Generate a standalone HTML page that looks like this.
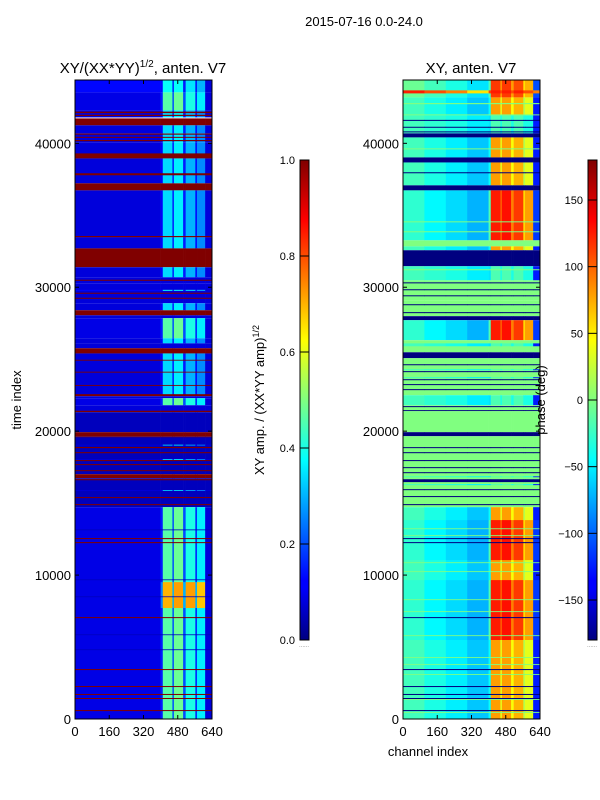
<!DOCTYPE html>
<html><head><meta charset="utf-8"><style>
html,body{margin:0;padding:0;background:#fff;}
svg{display:block;font-family:"Liberation Sans","DejaVu Sans",sans-serif;}
</style></head><body>
<svg id="fig" width="600" height="800" viewBox="0 0 600 800" xmlns="http://www.w3.org/2000/svg">
<defs>
<linearGradient id="jetg" x1="0" y1="1" x2="0" y2="0">
<stop offset="0" stop-color="#000080"/><stop offset="0.11" stop-color="#0000ff"/><stop offset="0.125" stop-color="#0000ff"/>
<stop offset="0.375" stop-color="#00ffff"/><stop offset="0.5" stop-color="#80ff80"/><stop offset="0.625" stop-color="#ffff00"/>
<stop offset="0.875" stop-color="#ff0000"/><stop offset="1" stop-color="#800000"/></linearGradient>
</defs>
<text x="364" y="26" font-size="13" text-anchor="middle">2015-07-16 0.0-24.0</text>
<g id="left"></g>
<g id="right"></g>
<g id="axes"></g>
</svg>
<script>
// ---- data ----
const tMax = 44400;
const yTicks = [0, 10000, 20000, 30000, 40000];
const xTicks = [0, 160, 320, 480, 640];
const ampTicks = [0.0, 0.2, 0.4, 0.6, 0.8, 1.0];
const phaseTicks = [-150, -100, -50, 0, 50, 100, 150];
const leftEdges = [0, 400, 410, 455, 462, 505, 517, 562, 570, 608, 640];
const rightEdges = [0, 100, 200, 300, 400, 410, 455, 462, 505, 517, 562, 570, 608, 640];
const leftProfiles = {
  b: [.09,.09,.09,.09,.09,.09,.09,.09,.09,.09],
  k: [.06,.06,.06,.06,.06,.06,.06,.06,.06,.06],
  a: [.09,.12,.34,.15,.36,.15,.3,.14,.26,.09],
  A: [.1,.15,.46,.2,.48,.2,.4,.17,.36,.09],
  H: [.1,.25,.7,.3,.72,.3,.72,.3,.68,.1],
  s: [.13,.13,.38,.15,.38,.15,.35,.15,.3,.09],
  r: [1,1,1,1,1,1,1,1,1,1]
};
const rightProfiles = {
  c: [.44,.4,.36,.32,.38,.72,.6,.72,.62,.7,.55,.6,.15],
  C: [.42,.37,.34,.3,.45,.85,.78,.86,.75,.82,.66,.72,.18],
  T: [.48,.44,.4,.35,.45,.82,.72,.82,.72,.8,.65,.7,.2],
  m: [.44,.42,.4,.36,.35,.45,.4,.45,.4,.45,.4,.4,.15],
  R: [.85,.8,.75,.65,.8,.85,.8,.85,.8,.85,.8,.8,.75],
  g: [.5,.5,.5,.5,.5,.5,.5,.5,.5,.5,.5,.5,.5],
  n: [0,0,0,0,0,0,0,0,0,0,0,0,0]
};
const leftRows = [
 [43540,44400,'s'],[42290,43540,'A'],[41800,42290,'a'],[42100,42200,'r'],[41900,41980,'r'],
 [41250,41730,'r'],[40690,41250,'a'],[40070,40690,'a'],[40600,40680,'r'],[40380,40450,'r'],[40150,40230,'r'],
 [39000,40070,'a'],[38950,39300,'r'],[37220,38950,'a'],[37780,37920,'r'],[36730,37220,'r'],
 [33470,36730,'a'],[33470,33560,'r'],[32700,33470,'a'],[31390,32700,'r'],[30690,31390,'a'],
 [30280,30690,'b'],[30450,30520,'r'],[28890,30280,'b'],[29750,29820,'s'],[29550,29620,'r'],[29200,29270,'r'],
 [28400,28890,'a'],[28050,28400,'r'],[27850,28050,'b'],[26450,27850,'A'],[26100,26450,'a'],[25760,26100,'b'],
 [25400,25760,'r'],[22500,25400,'a'],[24900,24960,'r'],[24070,24130,'r'],[23150,23210,'r'],
 [22430,22570,'r'],[22290,22430,'b'],[21800,22290,'A'],[21390,21800,'b'],[21320,21420,'r'],[19930,21320,'k'],
 [19650,19930,'r'],[17010,19650,'k'],[19580,19640,'r'],[18820,18900,'r'],[18470,18540,'r'],[17920,17990,'r'],
 [17640,17710,'r'],[17220,17290,'r'],[19000,19060,'a'],[18000,18060,'a'],
 [16730,17010,'r'],[14720,16730,'k'],[16590,16660,'r'],[15350,15420,'r'],[14860,14930,'r'],[15850,15900,'a'],
 [0,14720,'A'],[7710,9510,'H'],[12500,12570,'r'],[12220,12290,'r'],[7010,7080,'r'],[3400,3470,'r'],
 [2220,2290,'r'],[1670,1740,'r'],[1390,1460,'r'],[550,620,'r'],
 [13120,13170,'k'],[9650,9700,'k'],[8470,8520,'k'],[5830,5880,'k'],[4790,4840,'k']
];
const rightRows = [
 [43190,44400,'T'],[43470,43680,'R'],[41940,43190,'c'],[42720,42800,'g'],[41940,42010,'g'],
 [40690,41940,'m'],[41560,41630,'n'],[41080,41150,'n'],[40760,40830,'n'],[40410,40690,'n'],
 [39020,40410,'c'],[39580,39650,'g'],[38670,39020,'n'],[37080,38670,'c'],[37920,37990,'n'],[36730,37080,'n'],
 [33260,36730,'C'],[34510,34580,'g'],[33820,33890,'g'],[32840,33260,'g'],[32570,32840,'c'],[31460,32570,'n'],
 [30480,31460,'m'],[31180,31250,'g'],[29100,30480,'g'],[30270,30340,'n'],[29790,29860,'n'],[29370,29440,'n'],
 [27990,29100,'g'],[28750,28820,'n'],[28200,28270,'n'],[27710,27990,'n'],[26320,27710,'C'],
 [25480,26320,'g'],[25900,26100,'m'],[25070,25480,'n'],[22500,25070,'g'],[24580,24650,'n'],[24100,24170,'n'],
 [23540,23610,'n'],[23200,23270,'n'],[22850,22920,'n'],[24230,24300,'m'],[23680,23750,'m'],
 [21800,22500,'m'],[21390,21800,'g'],[21670,21740,'n'],[21390,21460,'n'],[19930,21390,'g'],[19650,19930,'n'],
 [14720,19650,'g'],[18820,18890,'n'],[18470,18540,'n'],[17920,17990,'n'],[17430,17500,'n'],[17080,17150,'n'],
 [16460,16660,'n'],[15900,15970,'n'],[15420,15490,'n'],[14860,14930,'n'],[16250,16320,'m'],[16800,16860,'m'],
 [0,14720,'c'],[11040,13820,'C'],[5490,9650,'C'],
 [13190,13250,'g'],[12710,12770,'g'],[10830,10890,'g'],[10210,10270,'g'],[8260,8320,'g'],[7430,7490,'g'],
 [5760,5820,'g'],[4240,4300,'g'],[3750,3810,'g'],[3060,3120,'g'],[1320,1380,'g'],[420,480,'g'],
 [12500,12570,'n'],[12220,12290,'n'],[7010,7080,'n'],[3400,3470,'n'],[2220,2290,'n'],[1670,1740,'n'],[1390,1460,'n'],[550,620,'n']
];

// ---- drawing ----
const NS = 'http://www.w3.org/2000/svg';
function jet(v){
  const c = x => Math.max(0, Math.min(1, x));
  const r = c(1.5 - Math.abs(4*v - 3)), g = c(1.5 - Math.abs(4*v - 2)), b = c(1.5 - Math.abs(4*v - 1));
  return 'rgb(' + Math.round(r*255) + ',' + Math.round(g*255) + ',' + Math.round(b*255) + ')';
}
function mk(tag, attrs, parent){
  const e = document.createElementNS(NS, tag);
  for (const k in attrs) e.setAttribute(k, attrs[k]);
  parent.appendChild(e); return e;
}
const PT = 80, PB = 719, L1 = 75, L2 = 403, PW = 137;
function yS(t){ return PB - (t / tMax) * (PB - PT); }
function xS(x0, ch){ return x0 + ch / 640 * PW; }

function drawHeat(g, x0, rows, edges, profiles){
  rows.forEach(row => {
    const prof = profiles[row[2]];
    const y1 = yS(row[1]), y2 = yS(row[0]);
    for (let i = 0; i < edges.length - 1; i++){
      const r = mk('rect', {x: xS(x0, edges[i]), y: y1, width: xS(x0, edges[i+1]) - xS(x0, edges[i]) + 0.3,
        height: Math.max(0.8, y2 - y1), fill: jet(prof[i])}, g);
      
      
    }
  });
}
drawHeat(document.getElementById('left'), L1, leftRows, leftEdges, leftProfiles);
drawHeat(document.getElementById('right'), L2, rightRows, rightEdges, rightProfiles);

const ax = document.getElementById('axes');
function txt(s, x, y, attrs, name){
  const t = mk('text', Object.assign({x: x, y: y, 'font-size': 13}, attrs || {}), ax);
  t.textContent = s;
  
  
  return t;
}
[L1, L2].forEach((x0, pi) => {
  const f = mk('rect', {x: x0, y: PT, width: PW, height: PB - PT, fill: 'none', stroke: '#000', 'stroke-width': 1}, ax);
  
  
  yTicks.forEach(t => {
    const y = yS(t);
    mk('line', {x1: x0, x2: x0 + 4, y1: y, y2: y, stroke: '#000'}, ax);
    mk('line', {x1: x0 + PW, x2: x0 + PW - 4, y1: y, y2: y, stroke: '#000'}, ax);
    txt(String(t), x0 - 4, y + 5, {'text-anchor': 'end'}, 'y-tick-label');
  });
  xTicks.forEach(t => {
    const x = xS(x0, t);
    mk('line', {x1: x, x2: x, y1: PB, y2: PB - 4, stroke: '#000'}, ax);
    mk('line', {x1: x, x2: x, y1: PT, y2: PT + 4, stroke: '#000'}, ax);
    txt(String(t), x, 736, {'text-anchor': 'middle'}, 'x-tick-label');
  });
});
const t1 = txt('', 143, 73, {'text-anchor': 'middle', 'font-size': 15}, 'left-panel-title');
t1.innerHTML = 'XY/(XX*YY)<tspan font-size="10" dy="-6">1/2</tspan><tspan dy="6">, anten. V7</tspan>';
txt('XY, anten. V7', 471, 73, {'text-anchor': 'middle', 'font-size': 15}, 'right-panel-title');
txt('time index', 21, 400, {'text-anchor': 'middle', transform: 'rotate(-90 21 400)'}, 'y-axis-title');
txt('channel index', 428, 756, {'text-anchor': 'middle'}, 'x-axis-title');

// colorbars
const CT = 160, CB = 640;
function cbar(x, ticks, lo, hi, name){
  const r = mk('rect', {x: x, y: CT, width: 9, height: CB - CT, fill: 'url(#jetg)', stroke: '#000', 'stroke-width': 1}, ax);
  
  
  ticks.forEach(t => {
    const y = CB - (t - lo) / (hi - lo) * (CB - CT);
    mk('line', {x1: x, x2: x + 9, y1: y, y2: y, stroke: '#000'}, ax);
    const s = (lo === 0) ? t.toFixed(1) : (t < 0 ? '\u2212' + Math.abs(t) : String(t));
    txt(s, x - 5, y + 4, {'text-anchor': 'end', 'font-size': 11}, 'colorbar-tick-label');
  });
  txt('......', x + 4, 647, {'text-anchor': 'middle', 'font-size': 6, fill: '#888'}, 'colorbar-footnote');
}
cbar(300, ampTicks, 0, 1, 'amplitude-colorbar');
cbar(588, phaseTicks, -180, 180, 'phase-colorbar');
const cl = txt('', 264, 400, {'text-anchor': 'middle', transform: 'rotate(-90 264 400)'}, 'amplitude-colorbar-title');
cl.innerHTML = 'XY amp. / (XX*YY amp)<tspan font-size="9" dy="-5">1/2</tspan>';
txt('phase (deg)', 545, 400, {'text-anchor': 'middle', transform: 'rotate(-90 545 400)'}, 'phase-colorbar-title');
</script>
</body></html>
